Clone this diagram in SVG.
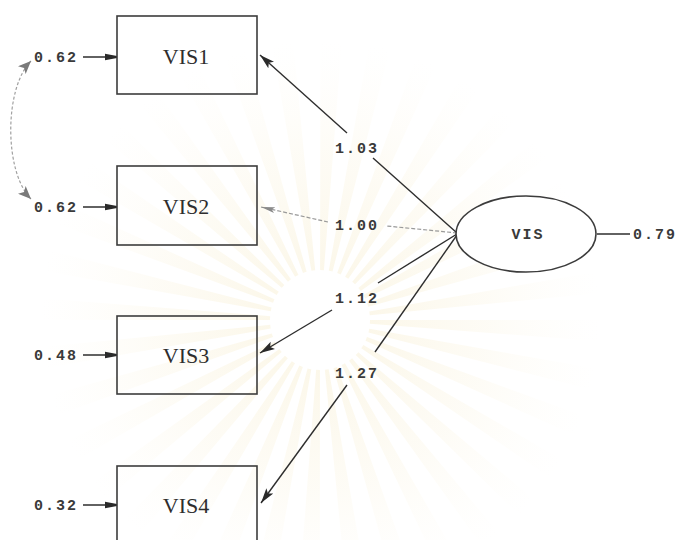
<svg xmlns="http://www.w3.org/2000/svg" width="680" height="540" viewBox="0 0 680 540">
  <defs>
    <style>
      .box { fill: none; stroke: #3c3c3c; stroke-width: 1.6; }
      .lat { fill: #ffffff; stroke: #3c3c3c; stroke-width: 1.6; }
      .obs { font-family: "Liberation Serif", "Times New Roman", serif; font-size: 22px; fill: #2e2e2e; text-anchor: middle; }
      .num { font-family: "Liberation Mono", "Courier New", monospace; font-size: 15px; font-weight: bold; fill: #3a3a3a; letter-spacing: 2px; }
      .mid { text-anchor: middle; }
      .path { stroke: #2e2e2e; stroke-width: 1.4; fill: none; }
      .fixed { stroke: #9a9a9a; stroke-width: 1.2; fill: none; stroke-dasharray: 4 2; }
      .cov { stroke: #a0a0a0; stroke-width: 1.2; fill: none; stroke-dasharray: 3 2; }
    </style>
    <marker id="head" viewBox="0 0 14 10" refX="14" refY="5" markerWidth="15" markerHeight="11" markerUnits="userSpaceOnUse" orient="auto">
      <path d="M0,1 L14,5 L0,9 L3,5 Z" fill="#2a2a2a"/>
    </marker>
    <marker id="headGray" viewBox="0 0 14 10" refX="14" refY="5" markerWidth="14" markerHeight="10" markerUnits="userSpaceOnUse" orient="auto">
      <path d="M0,2 L14,5 L0,8 L3,5 Z" fill="#8a8a8a"/>
    </marker>
    <marker id="errHead" viewBox="0 0 12 8" refX="12" refY="4" markerWidth="12" markerHeight="8" markerUnits="userSpaceOnUse" orient="auto">
      <path d="M0,0.8 L12,3 L12,5 L0,7.2 Z" fill="#2a2a2a"/>
    </marker>
    <marker id="covHead" viewBox="0 0 12 10" refX="12" refY="5" markerWidth="13" markerHeight="11" markerUnits="userSpaceOnUse" orient="auto-start-reverse">
      <path d="M0,0 L12,5 L0,10 L3,5 Z" fill="#7a7a7a"/>
    </marker>
    <radialGradient id="rayFade" gradientUnits="userSpaceOnUse" cx="320" cy="320" r="280">
      <stop offset="0.15" stop-color="#f3e4b4" stop-opacity="0.3"/>
      <stop offset="0.6" stop-color="#f6eac4" stop-opacity="0.16"/>
      <stop offset="1" stop-color="#fbf4de" stop-opacity="0"/>
    </radialGradient>
  </defs>

  <rect width="680" height="540" fill="#ffffff"/>

  <!-- faint sunburst seal in the background -->
  <g id="seal">
    <circle cx="320" cy="320" r="170" fill="none" stroke="url(#rayFade)" stroke-width="240" stroke-dasharray="13 16.67"/>
    <circle cx="320" cy="320" r="40" fill="#ffffff" opacity="0.7"/>
  </g>

  <!-- connectors -->
  <g id="connectors">
    <!-- loadings from VIS -->
    <line class="path" x1="347" y1="133" x2="260" y2="55" marker-end="url(#head)"/>
    <line class="path" x1="457" y1="233" x2="373" y2="158"/>
    <line class="fixed" x1="457" y1="233" x2="387" y2="226"/>
    <line class="fixed" x1="328" y1="222" x2="261" y2="207" marker-end="url(#headGray)"/>
    <line class="path" x1="457" y1="234" x2="378" y2="283"/>
    <line class="path" x1="332" y1="310" x2="260" y2="353" marker-end="url(#head)"/>
    <line class="path" x1="457" y1="235" x2="375" y2="352"/>
    <line class="path" x1="347" y1="385" x2="261" y2="503" marker-end="url(#head)"/>
    <!-- error terms -->
    <line class="path" x1="83" y1="57" x2="117" y2="57" marker-end="url(#errHead)"/>
    <line class="path" x1="83" y1="207" x2="117" y2="207" marker-end="url(#errHead)"/>
    <line class="path" x1="83" y1="355" x2="117" y2="355" marker-end="url(#errHead)"/>
    <line class="path" x1="83" y1="505" x2="117" y2="505" marker-end="url(#errHead)"/>
    <!-- latent variance -->
    <line class="path" x1="597" y1="234" x2="630" y2="234"/>
    <!-- error covariance -->
    <path class="cov" d="M31,61 C4,88 4,172 31,199" marker-start="url(#covHead)" marker-end="url(#covHead)"/>
  </g>

  <!-- loading values -->
  <g id="loadings">
    <text class="num mid" x="357" y="153">1.03</text>
    <text class="num mid" x="357" y="230">1.00</text>
    <text class="num mid" x="357" y="303">1.12</text>
    <text class="num mid" x="357" y="378">1.27</text>
  </g>

  <g id="vis1">
    <rect class="box" x="117" y="16" width="140" height="78"/>
    <text class="obs" x="186" y="64">VIS1</text>
    <text class="num" x="34" y="62">0.62</text>
  </g>
  <g id="vis2">
    <rect class="box" x="117" y="166" width="140" height="79"/>
    <text class="obs" x="186" y="214">VIS2</text>
    <text class="num" x="34" y="212">0.62</text>
  </g>
  <g id="vis3">
    <rect class="box" x="117" y="316" width="140" height="78"/>
    <text class="obs" x="186" y="363">VIS3</text>
    <text class="num" x="34" y="360">0.48</text>
  </g>
  <g id="vis4">
    <rect class="box" x="117" y="466" width="140" height="78"/>
    <text class="obs" x="186" y="513">VIS4</text>
    <text class="num" x="34" y="510">0.32</text>
  </g>

  <g id="vis">
    <ellipse class="lat" cx="526" cy="234" rx="70" ry="38"/>
    <text class="num mid" x="528" y="239">VIS</text>
    <text class="num" x="633" y="239">0.79</text>
  </g>
</svg>
